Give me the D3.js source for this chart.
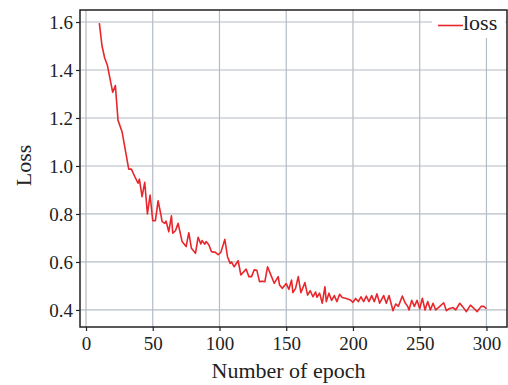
<!DOCTYPE html>
<html>
<head>
<meta charset="utf-8">
<script src="https://cdn.jsdelivr.net/npm/d3@7"></script>
<style>
  body { margin: 0; background: #fff; }
  svg text { font-family: "Liberation Serif", "DejaVu Serif", serif; fill: #222; }
</style>
</head>
<body>
<svg id="chart" width="508" height="385"></svg>
<script>
// values
const epochs = [10, 12, 14, 16, 20, 22, 24, 27, 32, 34, 37, 39, 40, 42, 44, 46, 48, 50, 52, 54,
  56, 57, 59, 60, 62, 64, 65, 67, 69, 72, 75, 77, 79, 82, 84, 86, 87, 89, 90, 92,
  94, 97, 99, 101, 104, 106, 108, 109, 111, 114, 116, 120, 122, 124, 126, 128, 130, 132, 134, 136,
  139, 141, 144, 145, 147, 150, 152, 154, 155, 157, 159, 161, 164, 166, 168, 170, 172, 173, 175, 177,
  179, 180, 182, 184, 186, 188, 190, 192, 195, 198, 200, 202, 204, 206, 208, 210, 212, 214, 216, 218,
  220, 223, 225, 227, 230, 232, 234, 237, 239, 241, 242, 244, 246, 248, 250, 252, 254, 256, 258, 260,
  262, 264, 268, 270, 272, 275, 277, 280, 282, 285, 288, 290, 293, 296, 298, 300];
const loss = [1.595, 1.50, 1.45, 1.42, 1.307, 1.335, 1.19, 1.143, 0.987, 0.987, 0.95, 0.928, 0.945, 0.872, 0.932, 0.80, 0.879, 0.772, 0.772, 0.855,
  0.80, 0.768, 0.761, 0.77, 0.726, 0.792, 0.72, 0.73, 0.761, 0.685, 0.664, 0.722, 0.657, 0.636, 0.703, 0.675, 0.689, 0.674, 0.685, 0.672,
  0.643, 0.64, 0.63, 0.64, 0.694, 0.622, 0.594, 0.60, 0.58, 0.605, 0.546, 0.57, 0.539, 0.539, 0.567, 0.565, 0.518, 0.52, 0.518, 0.58,
  0.539, 0.511, 0.539, 0.504, 0.49, 0.51, 0.486, 0.525, 0.472, 0.49, 0.539, 0.472, 0.514, 0.462, 0.48, 0.455, 0.475, 0.453, 0.47, 0.428,
  0.497, 0.435, 0.47, 0.44, 0.46, 0.435, 0.465, 0.452, 0.448, 0.442, 0.432, 0.448, 0.435, 0.455, 0.435, 0.458, 0.435, 0.46, 0.435, 0.467,
  0.428, 0.46, 0.428, 0.46, 0.397, 0.425, 0.415, 0.458, 0.43, 0.415, 0.40, 0.44, 0.415, 0.44, 0.405, 0.449, 0.40, 0.435, 0.40, 0.428,
  0.40, 0.41, 0.43, 0.397, 0.405, 0.41, 0.40, 0.428, 0.415, 0.393, 0.42, 0.41, 0.393, 0.415, 0.415, 0.405];
const xTicks = [0, 50, 100, 150, 200, 250, 300];
const yTicks = [0.4, 0.6, 0.8, 1.0, 1.2, 1.4, 1.6];
const seriesName = "loss";

const svg = d3.select("#chart");
const plotLeft = 80, plotRight = 507, plotTop = 10, plotBottom = 327;

const x = d3.scaleLinear().domain([-4.5, 315.4]).range([plotLeft, plotRight]);
const y = d3.scaleLinear().domain([0.329, 1.65]).range([plotBottom, plotTop]);

// grid
const grid = svg.append("g").attr("stroke", "#b4bcc4").attr("stroke-width", 1.2);
grid.selectAll("line.v").data(xTicks).enter().append("line")
    .attr("x1", d => x(d)).attr("x2", d => x(d))
    .attr("y1", plotTop).attr("y2", plotBottom);
grid.selectAll("line.h").data(yTicks).enter().append("line")
    .attr("x1", plotLeft).attr("x2", plotRight)
    .attr("y1", d => y(d)).attr("y2", d => y(d));

// legend background hides the grid under it
svg.append("rect")
    .attr("x", 432).attr("y", 11).attr("width", 73).attr("height", 27)
    .attr("fill", "#fff");

// line
const line = d3.line().x((d, i) => x(epochs[i])).y(d => y(d));
svg.append("path")
    .datum(loss)
    .attr("fill", "none")
    .attr("stroke", "#e8272c")
    .attr("stroke-width", 1.6)
    .attr("stroke-linejoin", "round")
    .attr("d", line);

// axes
const xAxis = svg.append("g")
    .attr("transform", `translate(0,${plotBottom})`)
    .call(d3.axisBottom(x).tickValues(xTicks).tickSize(4).tickPadding(6).tickFormat(d3.format("d")));
const yAxis = svg.append("g")
    .attr("transform", `translate(${plotLeft},0)`)
    .call(d3.axisLeft(y).tickValues(yTicks).tickSize(4).tickPadding(3).tickFormat(d3.format(".1f")));

[xAxis, yAxis].forEach(a => {
    a.attr("font-family", null);
    a.select(".domain").remove();
    a.selectAll(".tick line").attr("stroke", "#222").attr("stroke-width", 1.2);
    a.selectAll(".tick text").attr("font-size", 19).attr("fill", "#222");
});

// frame
svg.append("rect")
    .attr("x", plotLeft).attr("y", plotTop)
    .attr("width", plotRight - plotLeft).attr("height", plotBottom - plotTop)
    .attr("fill", "none").attr("stroke", "#222").attr("stroke-width", 1.5);

// legend
svg.append("line")
    .attr("x1", 438).attr("x2", 463).attr("y1", 25.5).attr("y2", 25.5)
    .attr("stroke", "#e8272c").attr("stroke-width", 1.6);
svg.append("text")
    .attr("x", 463).attr("y", 30)
    .attr("font-size", 22)
    .text(seriesName);

// axis titles
svg.append("text")
    .attr("x", (plotLeft + plotRight) / 2 - 5).attr("y", 378)
    .attr("text-anchor", "middle")
    .attr("font-size", 22)
    .text("Number of epoch");
svg.append("text")
    .attr("transform", `translate(31,${(plotTop + plotBottom) / 2 - 3}) rotate(-90)`)
    .attr("text-anchor", "middle")
    .attr("font-size", 22)
    .text("Loss");
</script>
</body>
</html>
